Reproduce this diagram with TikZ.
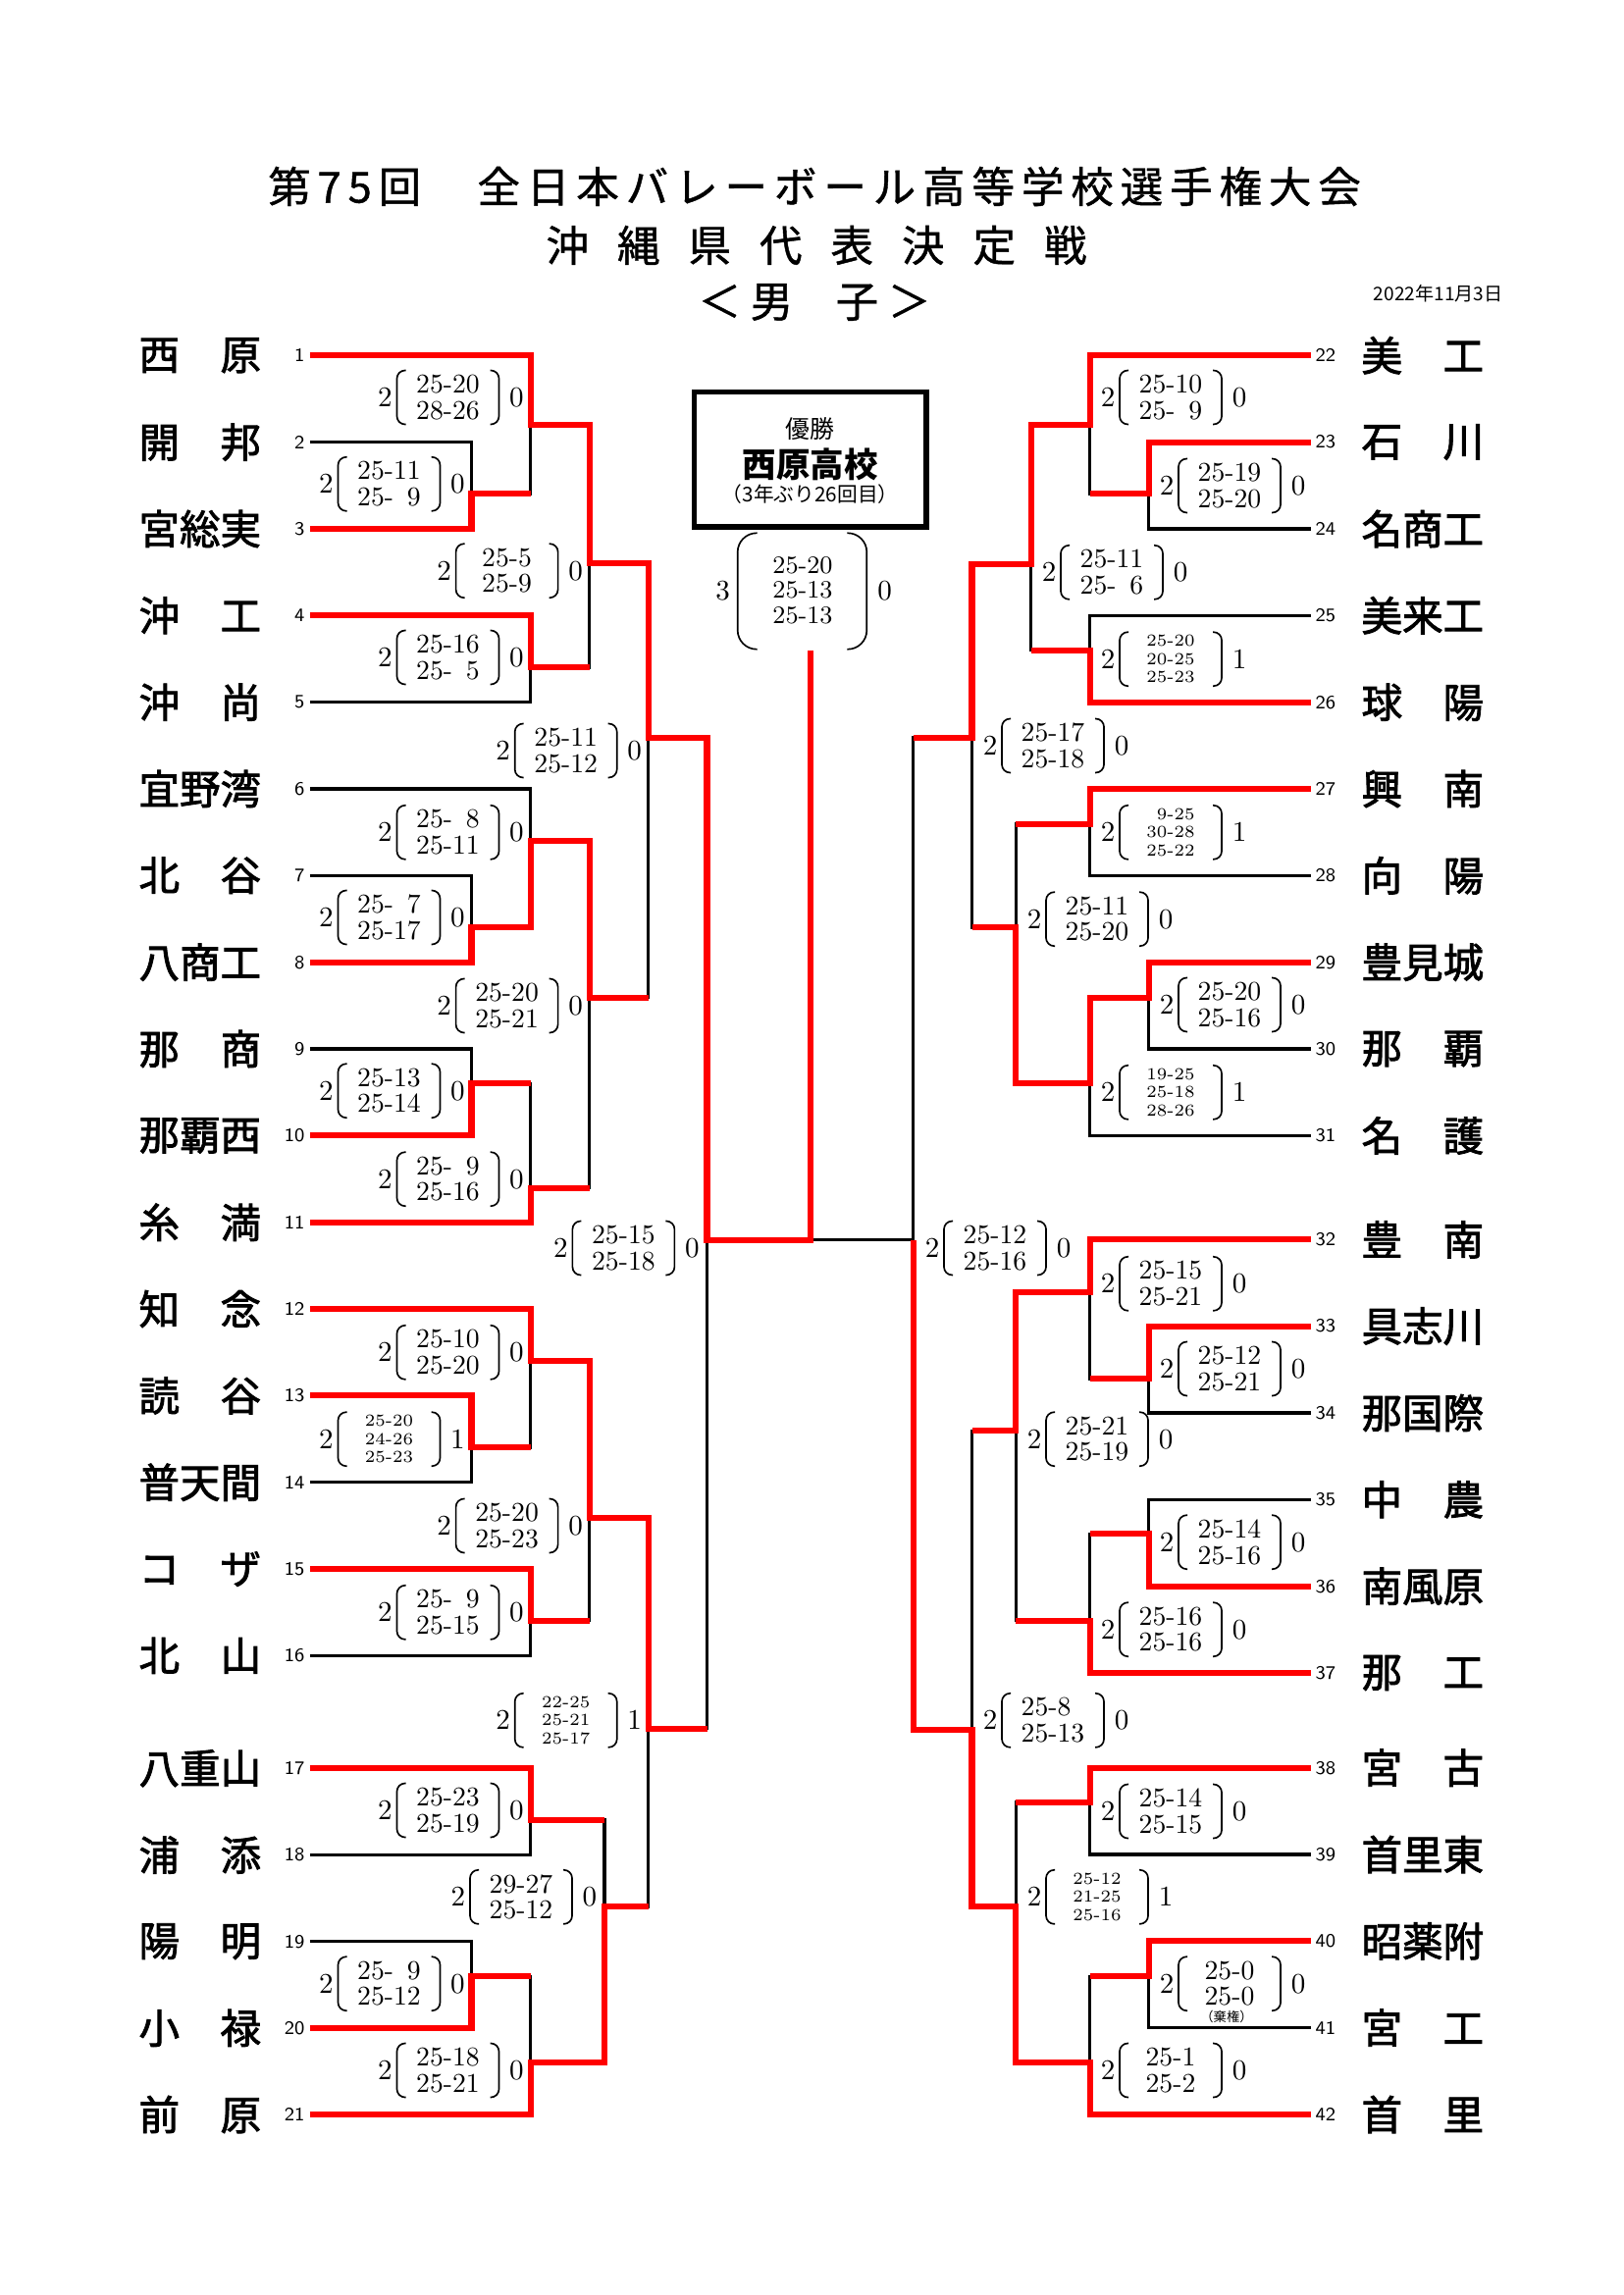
\documentclass[tikz,border=0pt]{standalone}
\usepackage{fontspec}
\newfontfamily\jp{Noto Sans CJK JP}
\newfontfamily\jpvua[FakeBold=1]{Noto Sans CJK JP}
\newfontfamily\jpdam[FakeBold=2]{Noto Sans CJK JP}
\begin{document}
\begin{tikzpicture}[x=0.127mm,y=-0.127mm]
	\tikzset{
		every node/.style={inner sep=0pt},
		% duong nhanh
		duongden/.style={line width=1.1pt},
		duongdo/.style={red,line width=2.2pt},
		ngoac/.style={line width=0.6pt,rounded corners=3pt},
		% chu
		tieude/.style={font=\jpvua\fontsize{15.7}{18}\selectfont},
		ngay/.style={font=\jp\fontsize{6.9}{8}\selectfont},
		tentruong/.style={font=\jpdam\fontsize{15}{16}\selectfont},
		sott/.style={font=\sffamily\fontsize{7}{8}\selectfont},
		diem/.style={font=\fontsize{10}{9.6}\selectfont,align=center},
		diemnho/.style={font=\fontsize{6.2}{6.75}\selectfont,align=center},
		sodem/.style={font=\fontsize{10.5}{12}\selectfont},
		khung/.style={draw,line width=2pt,minimum width=30mm,minimum height=17.5mm},
		% ti so
		pics/tiso/.style n args={4}{code={
			\draw[ngoac] (-43,-27.5)--(-52,-27.5)--(-52,27.5)--(-43,27.5)
			(43,-27.5)--(52,-27.5)--(52,27.5)--(43,27.5);
			\node[#1] (-d) at (0,0) {#4};
			\node[sodem] (-w) at (-64,0) {#2};
			\node[sodem] (-l) at (70,0) {#3};
		}},
	}
	\useasboundingbox (0,0) rectangle (1654,2339);
	%
	\node[tieude] (td1) at (830,190) {\addfontfeature{LetterSpace=16}第75回　全日本バレーボール高等学校選手権大会};
	\node[tieude] (td2) at (832,250) {\spaceskip=10.5pt\relax 沖 縄 県 代 表 決 定 戦};
	\node[tieude] (td3) at (830,308) {＜ 男　子 ＞};
	\node[ngay,anchor=east] (ngay) at (1532,299) {2022年11月3日};
	%
	\foreach \i/\y/\ten in {1/362.3/西\hfill 原,2/450.6/開\hfill 邦,3/539/宮総実,4/627.3/沖\hfill 工,
		5/715.7/沖\hfill 尚,6/804/宜野湾,7/892.3/北\hfill 谷,8/980.7/八商工,9/1069/那\hfill 商,
		10/1157.4/那覇西,11/1245.7/糸\hfill 満,12/1334/知\hfill 念,13/1422.4/読\hfill 谷,
		14/1510.7/普天間,15/1599.1/コ\hfill ザ,16/1687.4/北\hfill 山,17/1802.3/八重山,
		18/1890.5/浦\hfill 添,19/1978.7/陽\hfill 明,20/2066.9/小\hfill 禄,21/2155/前\hfill 原}{
		\coordinate (t\i) at (315.6,\y);
		\node[sott,anchor=east] (s\i) at (311,\y) {\i};
		\node[tentruong,anchor=west] (n\i) at (141,\y) {\makebox[45pt][l]{\ten}};
	}
	\foreach \i/\y/\ten in {22/362.3/美\hfill 工,23/450.6/石\hfill 川,24/539/名商工,25/627.3/美来工,
		26/715.7/球\hfill 陽,27/804/興\hfill 南,28/892.3/向\hfill 陽,29/980.7/豊見城,30/1069/那\hfill 覇,
		31/1157.4/名\hfill 護,32/1263.3/豊\hfill 南,33/1351.6/具志川,34/1440/那国際,35/1528.3/中\hfill 農,
		36/1616.7/南風原,37/1705/那\hfill 工,38/1801.7/宮\hfill 古,39/1890/首里東,40/1978.3/昭薬附,
		41/2066.6/宮\hfill 工,42/2155/首\hfill 里}{
		\coordinate (t\i) at (1335.7,\y);
		\node[sott,anchor=west] (s\i) at (1340,\y) {\i};
		\node[tentruong,anchor=west] (n\i) at (1387,\y) {\makebox[45pt][l]{\ten}};
	}
	% diem noi ben trai
	\coordinate (kA23) at (480.5,503.3);
	\coordinate (kB1) at (540.6,433.3);
	\coordinate (kB45) at (540.6,680);
	\coordinate (kC1) at (600.7,574.3);
	\coordinate (kA78) at (480.5,945);
	\coordinate (kB6) at (540.6,857.3);
	\coordinate (kA910) at (480.5,1104.3);
	\coordinate (kB11) at (540.6,1210.7);
	\coordinate (kC2) at (600.7,1016.7);
	\coordinate (kD1) at (660.8,751.7);
	\coordinate (kA1314) at (480.5,1475);
	\coordinate (kB12) at (540.6,1387.3);
	\coordinate (kB1516) at (540.6,1651.7);
	\coordinate (kC3) at (600.7,1546.7);
	\coordinate (kB1718) at (540.6,1855);
	\coordinate (kA1920) at (480.5,2014);
	\coordinate (kB21) at (540.6,2101.7);
	\coordinate (kC4) at (616,1943.3);
	\coordinate (kD2) at (660.8,1761.7);
	\coordinate (kE) at (720.5,1263.6);
	\coordinate (vd) at (825.7,663.3);
	% diem noi ben phai
	\coordinate (rA2324) at (1170.8,503.3);
	\coordinate (rB22) at (1110.7,433.3);
	\coordinate (rB2526) at (1110.7,662.7);
	\coordinate (rC1) at (1050.6,575);
	\coordinate (rB2728) at (1110.7,840);
	\coordinate (rA2930) at (1170.8,1016.7);
	\coordinate (rB31) at (1110.7,1104);
	\coordinate (rC2) at (1035.3,945);
	\coordinate (rD1) at (990.5,751.7);
	\coordinate (rA3334) at (1170.8,1405);
	\coordinate (rB32) at (1110.7,1316.7);
	\coordinate (rA3536) at (1170.8,1563.3);
	\coordinate (rB37) at (1110.7,1651.7);
	\coordinate (rC3) at (1035.3,1458.3);
	\coordinate (rB3839) at (1110.7,1836.7);
	\coordinate (rA4041) at (1170.8,2014);
	\coordinate (rB42) at (1110.7,2101.7);
	\coordinate (rC4) at (1035.3,1942.7);
	\coordinate (rD2) at (990.5,1763.3);
	\coordinate (rE) at (930.8,1263.6);
	%
	\draw[duongden]
	(t2)-|(kA23)|-(t3) (t1)-|(kB1)|-(kA23) (t4)-|(kB45)|-(t5) (kB1)-|(kC1)|-(kB45)
	(t7)-|(kA78)|-(t8) (t6)-|(kB6)|-(kA78) (t9)-|(kA910)|-(t10) (kA910)-|(kB11)|-(t11)
	(kB6)-|(kC2)|-(kB11) (kC1)-|(kD1)|-(kC2)
	(t13)-|(kA1314)|-(t14) (t12)-|(kB12)|-(kA1314) (t15)-|(kB1516)|-(t16) (kB12)-|(kC3)|-(kB1516)
	(t17)-|(kB1718)|-(t18) (t19)-|(kA1920)|-(t20) (kA1920)-|(kB21)|-(t21) (kB1718)-|(kC4)|-(kB21)
	(kC3)-|(kD2)|-(kC4) (kD1)-|(kE)|-(kD2) (kE)--(rE)
	(t23)-|(rA2324)|-(t24) (t22)-|(rB22)|-(rA2324) (t25)-|(rB2526)|-(t26) (rB22)-|(rC1)|-(rB2526)
	(t27)-|(rB2728)|-(t28) (t29)-|(rA2930)|-(t30) (rA2930)-|(rB31)|-(t31) (rB2728)-|(rC2)|-(rB31)
	(rC1)-|(rD1)|-(rC2)
	(t33)-|(rA3334)|-(t34) (t32)-|(rB32)|-(rA3334) (t35)-|(rA3536)|-(t36) (rA3536)-|(rB37)|-(t37)
	(rB32)-|(rC3)|-(rB37)
	(t38)-|(rB3839)|-(t39) (t40)-|(rA4041)|-(t41) (rA4041)-|(rB42)|-(t42) (rB3839)-|(rC4)|-(rB42)
	(rC3)-|(rD2)|-(rC4) (rD1)-|(rE)|-(rD2);
	%
	\draw[duongdo]
	(t3)-|(kA23)--(kA23-|kB1) (t1)-|(kB1)--(kB1-|kC1) (t4)-|(kB45)--(kB45-|kC1)
	(kB1)-|(kC1)--(kC1-|kD1)
	(t8)-|(kA78)--(kA78-|kB6) (kA78)-|(kB6)--(kB6-|kC2) (t10)-|(kA910)--(kA910-|kB11)
	(t11)-|(kB11)--(kB11-|kC2) (kB6)-|(kC2)--(kC2-|kD1) (kC1)-|(kD1)--(kD1-|kE)
	(t13)-|(kA1314)--(kA1314-|kB12) (t12)-|(kB12)--(kB12-|kC3) (t15)-|(kB1516)--(kB1516-|kC3)
	(kB12)-|(kC3)--(kC3-|kD2)
	(t17)-|(kB1718)--(kB1718-|kC4) (t20)-|(kA1920)--(kA1920-|kB21) (t21)-|(kB21)--(kB21-|kC4)
	(kB21)-|(kC4)--(kC4-|kD2) (kC3)-|(kD2)--(kD2-|kE)
	(kD1)-|(kE)--(kE-|vd)--(vd)
	(t23)-|(rA2324)--(rA2324-|rB22) (t22)-|(rB22)--(rB22-|rC1) (t26)-|(rB2526)--(rB2526-|rC1)
	(rB22)-|(rC1)--(rC1-|rD1)
	(t27)-|(rB2728)--(rB2728-|rC2) (t29)-|(rA2930)--(rA2930-|rB31) (rA2930)-|(rB31)--(rB31-|rC2)
	(rB31)-|(rC2)--(rC2-|rD1) (rC1)-|(rD1)--(rD1-|rE)
	(t33)-|(rA3334)--(rA3334-|rB32) (t32)-|(rB32)--(rB32-|rC3) (t36)-|(rA3536)--(rA3536-|rB37)
	(t37)-|(rB37)--(rB37-|rC3) (rB32)-|(rC3)--(rC3-|rD2)
	(t38)-|(rB3839)--(rB3839-|rC4) (t40)-|(rA4041)--(rA4041-|rB42) (t42)-|(rB42)--(rB42-|rC4)
	(rB42)-|(rC4)--(rC4-|rD2) (rC4)-|(rD2)--(rD2-|rE) (rD2)-|(rE);
	% ti so ben trai
	\pic (p1) at (456.5,405) {tiso={diem}{2}{0}{25-20\\28-26}};
	\pic (p2) at (396.5,493.3) {tiso={diem}{2}{0}{25-11\\25-\phantom{0}9}};
	\pic (p3) at (516.6,581.7) {tiso={diem}{2}{0}{25-5\\25-9}};
	\pic (p4) at (456.5,670) {tiso={diem}{2}{0}{25-16\\25-\phantom{0}5}};
	\pic (p5) at (576.7,765) {tiso={diem}{2}{0}{25-11\\25-12}};
	\pic (p6) at (456.5,848.3) {tiso={diem}{2}{0}{25-\phantom{0}8\\25-11}};
	\pic (p7) at (396.5,935) {tiso={diem}{2}{0}{25-\phantom{0}7\\25-17}};
	\pic (p8) at (516.6,1025) {tiso={diem}{2}{0}{25-20\\25-21}};
	\pic (p9) at (396.5,1111.7) {tiso={diem}{2}{0}{25-13\\25-14}};
	\pic (p10) at (456.5,1201.7) {tiso={diem}{2}{0}{25-\phantom{0}9\\25-16}};
	\pic (p11) at (635.4,1272) {tiso={diem}{2}{0}{25-15\\25-18}};
	\pic (p12) at (456.5,1378.3) {tiso={diem}{2}{0}{25-10\\25-20}};
	\pic (p13) at (396.5,1466.7) {tiso={diemnho}{2}{1}{25-20\\24-26\\25-23}};
	\pic (p14) at (516.6,1555) {tiso={diem}{2}{0}{25-20\\25-23}};
	\pic (p15) at (456.5,1643.3) {tiso={diem}{2}{0}{25-\phantom{0}9\\25-15}};
	\pic (p16) at (576.7,1753.3) {tiso={diemnho}{2}{1}{22-25\\25-21\\25-17}};
	\pic (p17) at (456.5,1845) {tiso={diem}{2}{0}{25-23\\25-19}};
	\pic (p18) at (531,1933.3) {tiso={diem}{2}{0}{29-27\\25-12}};
	\pic (p19) at (396.5,2021.7) {tiso={diem}{2}{0}{25-\phantom{0}9\\25-12}};
	\pic (p20) at (456.5,2110) {tiso={diem}{2}{0}{25-18\\25-21}};
	% ti so ben phai
	\pic (q1) at (1193,405) {tiso={diem}{2}{0}{25-10\\25-\phantom{0}9}};
	\pic (q2) at (1253,495) {tiso={diem}{2}{0}{25-19\\25-20}};
	\pic (q3) at (1133,583.3) {tiso={diem}{2}{0}{25-11\\25-\phantom{0}6}};
	\pic (q4) at (1193,671.7) {tiso={diemnho}{2}{1}{25-20\\20-25\\25-23}};
	\pic (q5) at (1073,760) {tiso={diem}{2}{0}{25-17\\25-18}};
	\pic (q6) at (1193,848.3) {tiso={diemnho}{2}{1}{\phantom{0}9-25\\30-28\\25-22}};
	\pic (q7) at (1118,936.7) {tiso={diem}{2}{0}{25-11\\25-20}};
	\pic (q8) at (1253,1024) {tiso={diem}{2}{0}{25-20\\25-16}};
	\pic (q9) at (1193,1113.3) {tiso={diemnho}{2}{1}{19-25\\25-18\\28-26}};
	\pic (q10) at (1014,1272) {tiso={diem}{2}{0}{25-12\\25-16}};
	\pic (q11) at (1193,1308.3) {tiso={diem}{2}{0}{25-15\\25-21}};
	\pic (q12) at (1253,1395) {tiso={diem}{2}{0}{25-12\\25-21}};
	\pic (q13) at (1118,1466.7) {tiso={diem}{2}{0}{25-21\\25-19}};
	\pic (q14) at (1253,1571.7) {tiso={diem}{2}{0}{25-14\\25-16}};
	\pic (q15) at (1193,1660.7) {tiso={diem}{2}{0}{25-16\\25-16}};
	\pic (q16) at (1073,1753.3) {tiso={diem}{2}{0}{25-8\phantom{0}\\25-13}};
	\pic (q17) at (1193,1846) {tiso={diem}{2}{0}{25-14\\25-15}};
	\pic (q18) at (1118,1933.3) {tiso={diemnho}{2}{1}{25-12\\21-25\\25-16}};
	\pic (q19) at (1253,2021.7) {tiso={diem}{2}{0}{25-0\\25-0}};
	\pic (q20) at (1193,2110) {tiso={diem}{2}{0}{25-1\\25-2}};
	\node[font=\jp\fontsize{4.8}{5}\selectfont] (bq) at (1250,2055) {（棄権）};
	% chung ket
	\node[khung] (vodich) at (825.8,468.3) {};
	\node[font=\jp\fontsize{9}{10}\selectfont] (vd1) at (825.8,436.7) {優勝};
	\node[font=\jp\bfseries\fontsize{12.5}{14}\selectfont] (vd2) at (825.8,473.3) {西原高校};
	\node[font=\jp\fontsize{7.5}{9}\selectfont] (vd3) at (825.8,503.3) {（3年ぶり26回目）};
	\draw[ngoac,rounded corners=7pt] (771.7,543.3)--(751.7,543.3)--(751.7,661.7)--(771.7,661.7)
	(863.3,543.3)--(883.3,543.3)--(883.3,661.7)--(863.3,661.7);
	\node[font=\fontsize{9.2}{9.3}\selectfont,align=center] (ck-d) at (818,601.7) {25-20\\25-13\\25-13};
	\node[sodem] (ck-w) at (736.7,601.7) {3};
	\node[sodem] (ck-l) at (901.7,601.7) {0};
\end{tikzpicture}
\end{document}
